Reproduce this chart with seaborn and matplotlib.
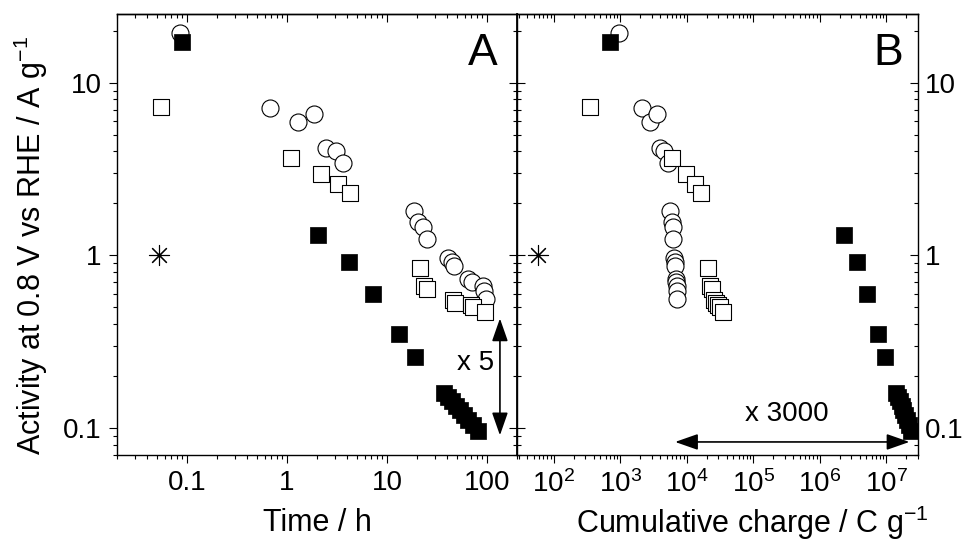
import numpy as np
import pandas as pd
import matplotlib
matplotlib.use('Agg')
import matplotlib.pyplot as plt
import seaborn as sns
from matplotlib.ticker import LogLocator, NullFormatter

# open circles
circ_time = [0.085, 0.676, 1.28, 1.86, 2.45, 3.07, 3.66, 18.6, 20.6, 23.1, 24.9,
             41.0, 44.3, 47.1, 65.0, 70.3, 90.6, 93.3, 97.0]
circ_charge = [944, 2110, 2820, 3550, 3980, 4570, 5300, 5620, 5960, 6170, 6170,
               6460, 6610, 6610, 6920, 6920, 7080, 7080, 7080]
circ_act = [19.4, 7.1, 5.95, 6.6, 4.17, 4.0, 3.42, 1.80, 1.56, 1.47, 1.24,
            0.965, 0.915, 0.864, 0.733, 0.701, 0.662, 0.622, 0.562]

# open squares
osq_time = [0.055, 1.11, 2.19, 3.24, 4.3, 21.4, 23.4, 24.9, 46.0, 47.9, 68.7, 73.0, 95.5]
osq_charge = [355, 6100, 9780, 13300, 16200, 20700, 22500, 24000, 26000, 27500,
              29500, 31500, 34500]
osq_act = [7.2, 3.67, 2.95, 2.61, 2.31, 0.849, 0.662, 0.642, 0.55, 0.53, 0.514, 0.502, 0.474]

# filled squares
fsq_time = [0.0885, 2.06, 4.14, 7.19, 13.3, 19.2, 37.4, 41, 45, 49, 54, 59, 65, 72, 80.7]
fsq_charge = [708, 2.28e6, 3.61e6, 5.22e6, 7.55e6, 9.6e6, 1.41e7, 1.5e7, 1.6e7,
              1.7e7, 1.8e7, 1.92e7, 2.05e7, 2.2e7, 2.36e7]
fsq_act = [17.3, 1.32, 0.919, 0.601, 0.351, 0.258, 0.160, 0.152, 0.143, 0.135,
           0.127, 0.119, 0.112, 0.104, 0.097]

# asterisk
ast_time = [0.0525]
ast_charge = [58]
ast_act = [1.01]

circles = pd.DataFrame({'time': circ_time, 'charge': circ_charge, 'act': circ_act})
osquares = pd.DataFrame({'time': osq_time, 'charge': osq_charge, 'act': osq_act})
fsquares = pd.DataFrame({'time': fsq_time, 'charge': fsq_charge, 'act': fsq_act})
star = pd.DataFrame({'time': ast_time, 'charge': ast_charge, 'act': ast_act})

sns.set_theme(style='ticks')
plt.rcParams['font.family'] = ['Liberation Sans', 'DejaVu Sans']
plt.rcParams['mathtext.fontset'] = 'custom'
plt.rcParams['mathtext.rm'] = 'Liberation Sans'
plt.rcParams['mathtext.it'] = 'Liberation Sans:italic'
for key in ['text.color', 'axes.labelcolor', 'xtick.color', 'ytick.color',
            'axes.edgecolor']:
    plt.rcParams[key] = 'black'

fig = plt.figure(figsize=(9.66, 5.48), dpi=100)
axA = fig.add_axes([117 / 966, 93 / 548, 400 / 966, 441 / 548])
axB = fig.add_axes([517 / 966, 93 / 548, 401 / 966, 441 / 548])


def draw(ax, xcol):
    sns.scatterplot(data=star, x=xcol, y='act', ax=ax, marker=(8, 2, 0), s=210,
                    color='black', linewidth=0.8, zorder=3)
    sns.scatterplot(data=circles, x=xcol, y='act', ax=ax, marker='o', s=150,
                    color='white', edgecolor='black', linewidth=0.8, zorder=3)
    sns.scatterplot(data=osquares, x=xcol, y='act', ax=ax, marker='s', s=125,
                    color='white', edgecolor='black', linewidth=0.8, zorder=4)
    sns.scatterplot(data=fsquares, x=xcol, y='act', ax=ax, marker='s', s=120,
                    color='black', edgecolor='black', linewidth=0.5, zorder=5)
    ax.set_xscale('log')
    ax.set_yscale('log')
    ax.set_ylim(0.07, 25)
    ax.set_yticks([0.1, 1, 10])
    ax.set_yticklabels(['0.1', '1', '10'])
    ax.yaxis.set_minor_locator(LogLocator(base=10, subs=np.arange(2, 10), numticks=100))
    ax.yaxis.set_minor_formatter(NullFormatter())
    ax.xaxis.set_minor_locator(LogLocator(base=10, subs=np.arange(2, 10), numticks=100))
    ax.xaxis.set_minor_formatter(NullFormatter())
    for sp in ax.spines.values():
        sp.set_linewidth(1.0)
        sp.set_color('black')


draw(axA, 'time')
draw(axB, 'charge')

axA.set_xlim(0.02, 200)
axA.set_xticks([0.1, 1, 10, 100])
axA.set_xticklabels(['0.1', '1', '10', '100'])
axB.set_xlim(28, 3e7)
dec = [2, 3, 4, 5, 6, 7]
axB.set_xticks([10.0 ** d for d in dec])
axB.set_xticklabels([r'$\mathregular{10^{%d}}$' % d for d in dec])

tick_kw = dict(labelsize=20, colors='black', width=0.8, pad=5)
for ax in (axA, axB):
    ax.tick_params(axis='x', which='major', direction='out', length=6, **tick_kw)
    ax.tick_params(axis='x', which='minor', direction='out', length=3, width=0.8)
    top = ax.secondary_xaxis('top')
    top.set_xticks(ax.get_xticks())
    top.xaxis.set_minor_locator(LogLocator(base=10, subs=np.arange(2, 10), numticks=100))
    top.tick_params(which='major', direction='in', length=6, width=0.8, labeltop=False)
    top.tick_params(which='minor', direction='in', length=3, width=0.8)
    top.xaxis.set_minor_formatter(NullFormatter())
    top.spines['top'].set_linewidth(1.0)

axA.tick_params(axis='y', which='major', direction='out', length=6, left=True,
                right=False, **tick_kw)
axA.tick_params(axis='y', which='minor', direction='out', length=3, width=0.8,
                left=True, right=False)
rightA = axA.secondary_yaxis('right')
rightA.set_yticks([0.1, 1, 10])
rightA.yaxis.set_minor_locator(LogLocator(base=10, subs=np.arange(2, 10), numticks=100))
rightA.yaxis.set_minor_formatter(NullFormatter())
rightA.tick_params(which='major', direction='in', length=6, width=0.8, labelright=False)
rightA.tick_params(which='minor', direction='in', length=3, width=0.8)

axB.tick_params(axis='y', which='major', direction='in', length=6, left=True,
                right=True, labelleft=False, labelright=True, **tick_kw)
axB.tick_params(axis='y', which='minor', direction='in', length=3, width=0.8,
                left=True, right=True)

axA.set_xlabel('Time / h', fontsize=22, va='center')
axA.xaxis.set_label_coords(0.5, -0.154)
axB.set_xlabel(r'Cumulative charge / C g$\mathregular{^{-1}}$', fontsize=22, va='center')
axB.xaxis.set_label_coords(0.586, -0.154)
axA.set_ylabel(r'Activity at 0.8 V vs RHE / A g$\mathregular{^{-1}}$', fontsize=22,
               va='center')
axA.yaxis.set_label_coords(-0.215, 0.476)
axB.set_ylabel('')

axA.text(0.915, 0.91, 'A', transform=axA.transAxes, fontsize=32, ha='center', va='center')
axB.text(0.925, 0.91, 'B', transform=axB.transAxes, fontsize=32, ha='center', va='center')

arrow = dict(arrowstyle='<|-|>,head_length=1.0,head_width=0.35', color='black',
             lw=1.2, mutation_scale=14, shrinkA=0, shrinkB=0)
axA.annotate('', xy=(135, 0.091), xytext=(135, 0.432), arrowprops=arrow)
axA.text(77, 0.238, 'x 5', fontsize=20, ha='center', va='center')
axB.annotate('', xy=(6680, 0.0833), xytext=(2.23e7, 0.0833), arrowprops=arrow)
axB.text(3.16e5, 0.1216, 'x 3000', fontsize=20, ha='center', va='center')

fig.savefig('out.png', dpi=100)
